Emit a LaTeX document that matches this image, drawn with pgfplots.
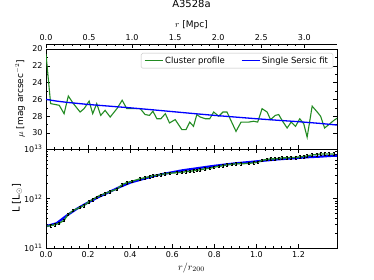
\documentclass[border=0pt]{standalone}
\usepackage{fontspec}
\setmainfont{DejaVu Sans}
\usepackage{pgfplots}
\pgfplotsset{compat=1.18}
\definecolor{mplgreen}{RGB}{34,139,34}
\definecolor{mplblue}{RGB}{0,0,255}
\pgfplotsset{
  base/.style={
    scale only axis, width=291pt,
    tick align=inside,
    font=\fontsize{8}{9.5}\selectfont,
    tick label style={font=\fontsize{8}{9.5}\selectfont},
    /pgf/number format/assume math mode=true,
    major tick length=4pt, minor tick length=2pt,
    every tick/.style={black, line width=0.5pt},
    axis line style={line width=0.8pt},
    xticklabel style={/pgf/number format/.cd, fixed, fixed zerofill, precision=1, assume math mode=true},
  }
}
\begin{document}
\begin{tikzpicture}
\useasboundingbox (0pt,0pt) rectangle (374pt,280pt);

% ---------- bottom panel ----------
\begin{axis}[base,
  at={(46pt,32pt)}, anchor=south west, height=99pt,
  xmin=0, xmax=1.383,
  ymode=log, ymin=1e11, ymax=1e13,
  xtick={0,0.2,0.4,0.6,0.8,1.0,1.2}, minor x tick num=4,
  ytick={1e11,1e12,1e13},
  yticklabels={10\textsuperscript{11},10\textsuperscript{12},10\textsuperscript{13}},
  xlabel={$r/r_{200}$},
  xlabel style={at={(axis description cs:0.5,-0.2)}, anchor=center, font=\fontsize{10}{12}\selectfont},
  ylabel={L [L$_\odot$]},
  ylabel style={at={(axis description cs:-0.10,0.5)}, anchor=center, font=\fontsize{10}{12}\selectfont},
]
\addplot[mplblue, line width=2.2pt] coordinates {
(0.00,2.75e11) (0.05,3.16e11) (0.10,4.57e11) (0.15,6.31e11) (0.20,8.32e11)
(0.25,1.07e12) (0.30,1.35e12) (0.35,1.70e12) (0.40,2.09e12) (0.45,2.40e12)
(0.50,2.75e12) (0.55,3.09e12) (0.60,3.39e12) (0.65,3.72e12) (0.70,3.98e12)
(0.75,4.27e12) (0.80,4.57e12) (0.85,4.84e12) (0.90,5.13e12) (0.95,5.37e12)
(1.00,5.62e12) (1.05,5.89e12) (1.10,6.17e12) (1.15,6.38e12) (1.20,6.61e12)
(1.25,6.84e12) (1.30,7.00e12) (1.35,7.24e12) (1.383,7.33e12)
};
\addplot[mplgreen, line width=1.3pt,
  error bars/.cd, y dir=both, y fixed relative=0.06,
  error bar style={black, line width=0.45pt},
  error mark options={black, mark size=1pt, rotate=90, line width=0.45pt}]
coordinates {
(0.000,2.75e11) (0.022,2.82e11) (0.043,2.95e11) (0.063,3.16e11) (0.086,3.63e11)
(0.106,4.79e11) (0.130,5.75e11) (0.162,6.61e11) (0.181,7.24e11) (0.205,8.71e11)
(0.222,9.55e11) (0.241,1.07e12) (0.260,1.17e12) (0.281,1.26e12) (0.305,1.38e12)
(0.337,1.55e12) (0.362,1.91e12) (0.384,2.09e12) (0.410,2.24e12) (0.448,2.51e12)
(0.471,2.63e12) (0.492,2.75e12) (0.508,2.88e12) (0.527,2.95e12) (0.546,3.02e12)
(0.567,3.16e12) (0.587,3.24e12) (0.622,3.31e12) (0.646,3.39e12) (0.665,3.47e12)
(0.686,3.55e12) (0.701,3.63e12) (0.717,3.72e12) (0.733,3.80e12) (0.757,3.98e12)
(0.778,4.07e12) (0.797,4.27e12) (0.821,4.47e12) (0.841,4.57e12) (0.860,4.79e12)
(0.883,4.90e12) (0.903,5.01e12) (0.927,5.01e12) (0.963,5.13e12) (0.987,5.25e12)
(1.006,5.37e12) (1.027,5.89e12) (1.051,6.17e12) (1.067,6.31e12) (1.090,6.31e12)
(1.106,6.46e12) (1.122,6.61e12) (1.146,6.61e12) (1.165,6.76e12) (1.186,6.76e12)
(1.206,6.92e12) (1.225,7.08e12) (1.241,7.24e12) (1.265,7.59e12) (1.289,7.76e12)
(1.305,7.94e12) (1.324,7.94e12) (1.344,7.94e12) (1.368,7.94e12)
};
\end{axis}

% ---------- top panel ----------
\begin{axis}[base,
  at={(46pt,131pt)}, anchor=south west, height=100pt,
  xmin=0, xmax=1.383,
  y dir=reverse, ymin=20, ymax=31.9,
  ytick={20,22,24,26,28,30}, minor y tick num=1,
  xtick={0,0.2,0.4,0.6,0.8,1.0,1.2}, xticklabels={}, minor x tick num=4,
  xtick pos=bottom,
  ylabel={$\mu$ [mag arcsec$^{-2}$]},
  ylabel style={at={(axis description cs:-0.089,0.5)}, anchor=center, font=\fontsize{9}{11}\selectfont},
  legend columns=2,
  legend style={at={(axis description cs:0.987,0.96)}, anchor=north east,
    draw=black!25, rounded corners=1.5pt, font=\fontsize{8.5}{10}\selectfont,
    inner xsep=3pt, inner ysep=1.5pt,
    /tikz/every even column/.append style={column sep=14pt}},
  legend image code/.code={\draw[#1] (0pt,0pt) -- (18pt,0pt);},
]
\addplot[mplgreen, line width=1.1pt] coordinates {
(0.000,20.6) (0.022,26.5) (0.043,26.6) (0.063,26.7) (0.086,27.7) (0.106,25.6)
(0.130,26.5) (0.162,27.5) (0.181,27.1) (0.205,26.2) (0.222,27.7) (0.241,26.5)
(0.260,27.9) (0.281,27.3) (0.305,28.1) (0.337,27.1) (0.362,26.1) (0.384,27.1)
(0.416,27.1) (0.448,27.1) (0.471,27.8) (0.492,27.9) (0.508,27.4) (0.527,28.3)
(0.546,28.3) (0.567,27.7) (0.587,28.8) (0.614,28.4) (0.646,29.6) (0.665,29.6)
(0.683,28.7) (0.701,29.2) (0.717,27.8) (0.733,28.1) (0.757,28.3) (0.778,28.3)
(0.797,27.5) (0.821,28.0) (0.841,27.5) (0.860,27.5) (0.903,29.8) (0.927,28.7)
(0.963,28.7) (0.987,28.6) (1.006,28.7) (1.027,27.1) (1.051,27.5) (1.067,28.4)
(1.090,27.9) (1.106,27.8) (1.122,28.5) (1.146,29.4) (1.165,28.7) (1.186,29.2)
(1.206,28.3) (1.225,28.9) (1.241,30.5) (1.265,26.8) (1.289,27.5) (1.305,28.0)
(1.324,29.4) (1.344,29.0) (1.368,28.5) (1.386,28.2)
};
\addlegendentry{Cluster profile}
\addplot[mplblue, line width=1.3pt] coordinates {
(0.00,26.0) (0.05,26.2) (0.10,26.35) (0.20,26.6) (0.30,26.8) (0.40,27.0)
(0.50,27.22) (0.60,27.45) (0.70,27.68) (0.80,27.9) (0.90,28.1) (1.00,28.3)
(1.10,28.48) (1.20,28.65) (1.30,28.85) (1.383,29.05)
};
\addlegendentry{Single Sersic fit}
\end{axis}

% ---------- top Mpc axis ----------
\begin{axis}[base,
  at={(46pt,136pt)}, anchor=south west, height=100pt,
  xmin=0, xmax=3.38, ymin=0, ymax=1,
  axis x line*=top, axis y line=none,
  xtick={0,0.5,1.0,1.5,2.0,2.5,3.0}, minor x tick num=4,
  xlabel={$r$ [Mpc]},
  xlabel style={at={(axis description cs:0.5,1.19)}, anchor=center, font=\fontsize{9}{11}\selectfont},
  title={A3528a},
  title style={at={(axis description cs:0.5,1.34)}, anchor=center, font=\fontsize{10}{12}\selectfont},
]
\addplot[draw=none] coordinates {(0,0)};
\end{axis}
\end{tikzpicture}
\end{document}
